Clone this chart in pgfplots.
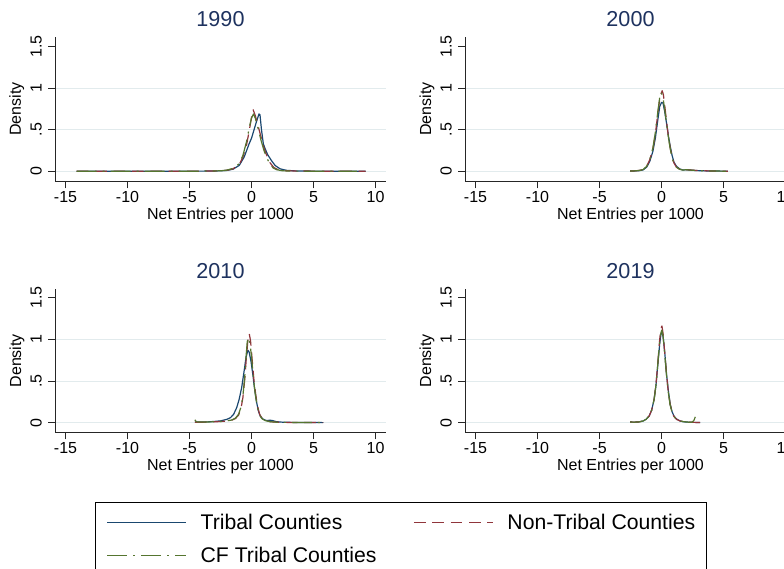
\documentclass[border=0pt]{standalone}
\usepackage{fontspec}
\setmainfont{Liberation Sans}
\usepackage{pgfplots}
\pgfplotsset{compat=1.18}
\definecolor{stnavy}{RGB}{26,71,111}
\definecolor{stmaroon}{RGB}{144,53,59}
\definecolor{stgreen}{RGB}{85,117,47}
\definecolor{sttitle}{RGB}{30,50,95}
\definecolor{stgrid}{RGB}{226,235,237}
\pgfplotsset{
  panel/.style={
    scale only axis, width=331pt, height=145pt,
    xmin=-15.85, xmax=10.84,
    axis x line*=bottom, axis y line*=left,
    axis line style={line width=0.9pt, black!85, -},
    xtick={-15,-10,-5,0,5,10}, xticklabels={-15,-10,-5,0,5,10},
    ytick={0,0.5,1}, yticklabels={0,.5,1},
    extra y ticks={1.5}, extra y tick labels={1.5},
    extra y tick style={grid=none},
    ymajorgrids, major grid style={stgrid, line width=0.9pt},
    tick align=outside, major tick length=6.7pt,
    tick style={black!85, line width=0.9pt},
    ticklabel style={font=\fontsize{16}{19}\selectfont},
    xticklabel style={anchor=base, inner sep=0pt, yshift=-14.3pt},
    yticklabel style={rotate=90, anchor=base, inner sep=0pt},
    yticklabel shift=6.6pt,
    xlabel={Net Entries per 1000}, ylabel={Density},
    label style={font=\fontsize{16}{19}\selectfont},
    xlabel style={at={(axis description cs:0.5,0)}, anchor=base, yshift=-37.8pt},
    ylabel style={at={([xshift=-34pt]axis description cs:0,0.5)}, anchor=base},
    title style={at={([yshift=3.8pt]axis description cs:0.5,1)}, anchor=base,
      font=\fontsize{21.6}{25}\selectfont, text=sttitle},
    clip=true,
  },
  trib/.style={stnavy, line width=1.2pt, line join=round},
  nontrib/.style={stmaroon, line width=1.2pt, line join=round, dash pattern=on 11.7pt off 6.7pt},
  cftrib/.style={stgreen, line width=1.2pt, line join=round, dash pattern=on 20pt off 6pt on 2pt off 6pt},
}
\begin{document}
\begin{tikzpicture}
\useasboundingbox (0,0) rectangle (784pt,569pt);
\clip (0,0) rectangle (784pt,569pt);

% ---------------- 1990 ----------------
\begin{axis}[panel, at={(55pt,387.3pt)}, anchor=south west, ymin=-0.125, ymax=1.62, title={1990}]
\addplot[trib] table[row sep=\\]{x y\\
-14.1 0\\ -10 0\\ -6 0.001\\ -3 0.003\\ -2 0.01\\ -1.5 0.025\\ -1 0.07\\ -0.6 0.17\\ -0.4 0.25\\ -0.2 0.33\\ 0 0.4\\ 0.2 0.5\\ 0.4 0.6\\ 0.6 0.69\\ 0.68 0.68\\ 0.8 0.5\\ 0.95 0.33\\ 1.1 0.27\\ 1.3 0.2\\ 1.6 0.13\\ 1.9 0.07\\ 2.3 0.03\\ 2.8 0.012\\ 3.5 0.005\\ 5 0.002\\ 7 0.001\\ 9.2 0\\
};
\addplot[nontrib] table[row sep=\\]{x y\\
-14.1 0\\ -8 0\\ -4 0.002\\ -2.5 0.006\\ -2 0.012\\ -1.5 0.03\\ -1 0.08\\ -0.7 0.17\\ -0.4 0.32\\ -0.15 0.52\\ 0.05 0.7\\ 0.13 0.74\\ 0.3 0.67\\ 0.5 0.56\\ 0.75 0.42\\ 1.0 0.28\\ 1.2 0.2\\ 1.5 0.1\\ 1.8 0.045\\ 2.2 0.016\\ 2.6 0.008\\ 3.5 0.004\\ 5 0.002\\ 9.2 0\\
};
\addplot[cftrib] table[row sep=\\]{x y\\
-14.1 0\\ -8 0\\ -4 0.002\\ -2.5 0.006\\ -2 0.014\\ -1.5 0.035\\ -1 0.09\\ -0.7 0.19\\ -0.4 0.36\\ -0.15 0.55\\ 0 0.64\\ 0.15 0.69\\ 0.3 0.64\\ 0.5 0.53\\ 0.75 0.38\\ 1.0 0.25\\ 1.2 0.17\\ 1.5 0.08\\ 1.75 0.04\\ 2.0 0.02\\ 2.5 0.006\\ 3.5 0.002\\ 8.5 0\\
};
\end{axis}

% ---------------- 2000 ----------------
\begin{axis}[panel, at={(465pt,387.3pt)}, anchor=south west, ymin=-0.125, ymax=1.62, title={2000}]
\addplot[trib] table[row sep=\\]{x y\\
-2.53 0.003\\ -2.2 0.004\\ -1.8 0.008\\ -1.5 0.016\\ -1.2 0.05\\ -0.95 0.12\\ -0.7 0.24\\ -0.5 0.4\\ -0.3 0.62\\ -0.15 0.78\\ 0 0.83\\ 0.12 0.82\\ 0.25 0.72\\ 0.4 0.58\\ 0.55 0.43\\ 0.7 0.3\\ 0.85 0.19\\ 1.0 0.11\\ 1.2 0.06\\ 1.45 0.03\\ 1.7 0.016\\ 2.0 0.018\\ 2.3 0.015\\ 2.8 0.009\\ 3.5 0.005\\ 4.5 0.003\\ 5.35 0.001\\
};
\addplot[nontrib] table[row sep=\\]{x y\\
-2.53 0.003\\ -2.2 0.005\\ -1.8 0.01\\ -1.5 0.02\\ -1.2 0.06\\ -0.95 0.14\\ -0.7 0.27\\ -0.5 0.45\\ -0.3 0.7\\ -0.12 0.9\\ 0.05 0.97\\ 0.15 0.92\\ 0.28 0.76\\ 0.4 0.6\\ 0.55 0.42\\ 0.7 0.28\\ 0.85 0.17\\ 1.0 0.1\\ 1.2 0.05\\ 1.45 0.025\\ 1.7 0.015\\ 2.0 0.02\\ 2.3 0.016\\ 2.8 0.01\\ 3.5 0.006\\ 4.5 0.003\\ 5.35 0.001\\
};
\addplot[cftrib] table[row sep=\\]{x y\\
-2.53 0.003\\ -2.2 0.005\\ -1.8 0.01\\ -1.5 0.02\\ -1.2 0.06\\ -0.95 0.14\\ -0.7 0.28\\ -0.5 0.47\\ -0.3 0.72\\ -0.12 0.92\\ -0.03 0.95\\ 0.1 0.9\\ 0.25 0.75\\ 0.4 0.58\\ 0.55 0.41\\ 0.7 0.27\\ 0.85 0.16\\ 1.0 0.09\\ 1.2 0.05\\ 1.45 0.024\\ 1.7 0.015\\ 2.0 0.019\\ 2.3 0.015\\ 2.8 0.009\\ 3.5 0.005\\ 4.5 0.003\\ 5.2 0.001\\
};
\end{axis}

% ---------------- 2010 ----------------
\begin{axis}[panel, at={(55pt,136.3pt)}, anchor=south west, height=144pt, ymin=-0.12, ymax=1.607, title={2010},
  legend columns=2,
  legend image code/.code={\draw[#1] (0pt,0pt) -- (79pt,0pt); \path (93pt,0pt);},
  legend style={at={(0.1208,-0.4833)}, anchor=north west, draw=black, line width=0.9pt, fill=white,
    font=\fontsize{21.2}{25}\selectfont, inner xsep=11pt, inner ysep=11.5pt,
    nodes={inner sep=0pt}, row sep=16pt,
    /tikz/every even column/.append style={column sep=36.7pt}},
  legend cell align=left]
\addplot[trib] table[row sep=\\]{x y\\
-4.57 0.01\\ -4.2 0.008\\ -3.5 0.01\\ -3 0.015\\ -2.5 0.022\\ -2 0.04\\ -1.7 0.06\\ -1.45 0.1\\ -1.2 0.18\\ -1.0 0.28\\ -0.8 0.42\\ -0.6 0.62\\ -0.45 0.78\\ -0.3 0.87\\ -0.2 0.85\\ -0.05 0.74\\ 0.1 0.58\\ 0.25 0.4\\ 0.4 0.25\\ 0.55 0.14\\ 0.7 0.08\\ 0.9 0.045\\ 1.2 0.025\\ 1.5 0.03\\ 1.7 0.025\\ 2.0 0.012\\ 2.5 0.006\\ 3.5 0.003\\ 4.5 0.002\\ 5.78 0.001\\
};
\addlegendentry{Tribal Counties}
\addplot[nontrib] table[row sep=\\]{x y\\
-4.57 0.005\\ -4 0.006\\ -3.5 0.008\\ -3 0.01\\ -2.5 0.014\\ -2 0.02\\ -1.6 0.03\\ -1.3 0.05\\ -1.05 0.09\\ -0.85 0.17\\ -0.7 0.3\\ -0.55 0.52\\ -0.42 0.78\\ -0.3 0.98\\ -0.19 1.07\\ -0.08 0.98\\ 0.05 0.75\\ 0.2 0.5\\ 0.35 0.32\\ 0.5 0.19\\ 0.65 0.1\\ 0.85 0.05\\ 1.1 0.025\\ 1.5 0.012\\ 2 0.006\\ 3 0.003\\ 4.5 0.002\\ 5.78 0.001\\
};
\addlegendentry{Non-Tribal Counties}
\addplot[cftrib] table[row sep=\\]{x y\\
-4.57 0.035\\ -4.45 0.01\\ -4 0.007\\ -3.5 0.009\\ -3 0.011\\ -2.5 0.015\\ -2 0.022\\ -1.6 0.032\\ -1.3 0.055\\ -1.05 0.1\\ -0.85 0.19\\ -0.7 0.32\\ -0.55 0.55\\ -0.45 0.78\\ -0.35 0.97\\ -0.25 1.02\\ -0.12 0.95\\ 0.02 0.75\\ 0.17 0.5\\ 0.32 0.32\\ 0.47 0.19\\ 0.62 0.1\\ 0.82 0.05\\ 1.1 0.025\\ 1.5 0.012\\ 2 0.006\\ 3 0.003\\ 4.5 0.002\\ 5.6 0.001\\
};
\addlegendentry{CF Tribal Counties}
\end{axis}

% ---------------- 2019 ----------------
\begin{axis}[panel, at={(465pt,136.3pt)}, anchor=south west, height=144pt, ymin=-0.12, ymax=1.607, title={2019}]
\addplot[trib] table[row sep=\\]{x y\\
-2.53 0.008\\ -2.2 0.006\\ -1.8 0.01\\ -1.5 0.02\\ -1.25 0.04\\ -1.0 0.08\\ -0.8 0.15\\ -0.6 0.28\\ -0.45 0.45\\ -0.3 0.7\\ -0.15 0.95\\ -0.05 1.06\\ 0.05 1.09\\ 0.15 1.0\\ 0.28 0.8\\ 0.4 0.58\\ 0.55 0.38\\ 0.7 0.22\\ 0.85 0.13\\ 1.0 0.08\\ 1.2 0.045\\ 1.5 0.02\\ 1.8 0.01\\ 2.2 0.006\\ 2.6 0.004\\ 3.11 0.002\\
};
\addplot[nontrib] table[row sep=\\]{x y\\
-2.53 0.008\\ -2.2 0.006\\ -1.8 0.01\\ -1.5 0.02\\ -1.25 0.04\\ -1.0 0.08\\ -0.8 0.15\\ -0.6 0.28\\ -0.45 0.46\\ -0.3 0.72\\ -0.15 1.0\\ -0.05 1.13\\ 0.03 1.16\\ 0.12 1.07\\ 0.25 0.85\\ 0.38 0.62\\ 0.52 0.4\\ 0.68 0.23\\ 0.85 0.12\\ 1.0 0.075\\ 1.2 0.04\\ 1.5 0.02\\ 1.8 0.012\\ 2.2 0.006\\ 2.6 0.004\\ 3.11 0.002\\
};
\addplot[cftrib] table[row sep=\\]{x y\\
-2.53 0.008\\ -2.2 0.006\\ -1.8 0.01\\ -1.5 0.02\\ -1.25 0.04\\ -1.0 0.08\\ -0.8 0.15\\ -0.6 0.28\\ -0.45 0.45\\ -0.3 0.71\\ -0.15 0.97\\ -0.05 1.08\\ 0.02 1.11\\ 0.12 1.04\\ 0.25 0.83\\ 0.38 0.6\\ 0.52 0.39\\ 0.68 0.22\\ 0.85 0.12\\ 1.0 0.075\\ 1.2 0.04\\ 1.5 0.02\\ 1.8 0.012\\ 2.2 0.006\\ 2.45 0.006\\ 2.6 0.025\\ 2.72 0.07\\
};
\end{axis}
\end{tikzpicture}
\end{document}
